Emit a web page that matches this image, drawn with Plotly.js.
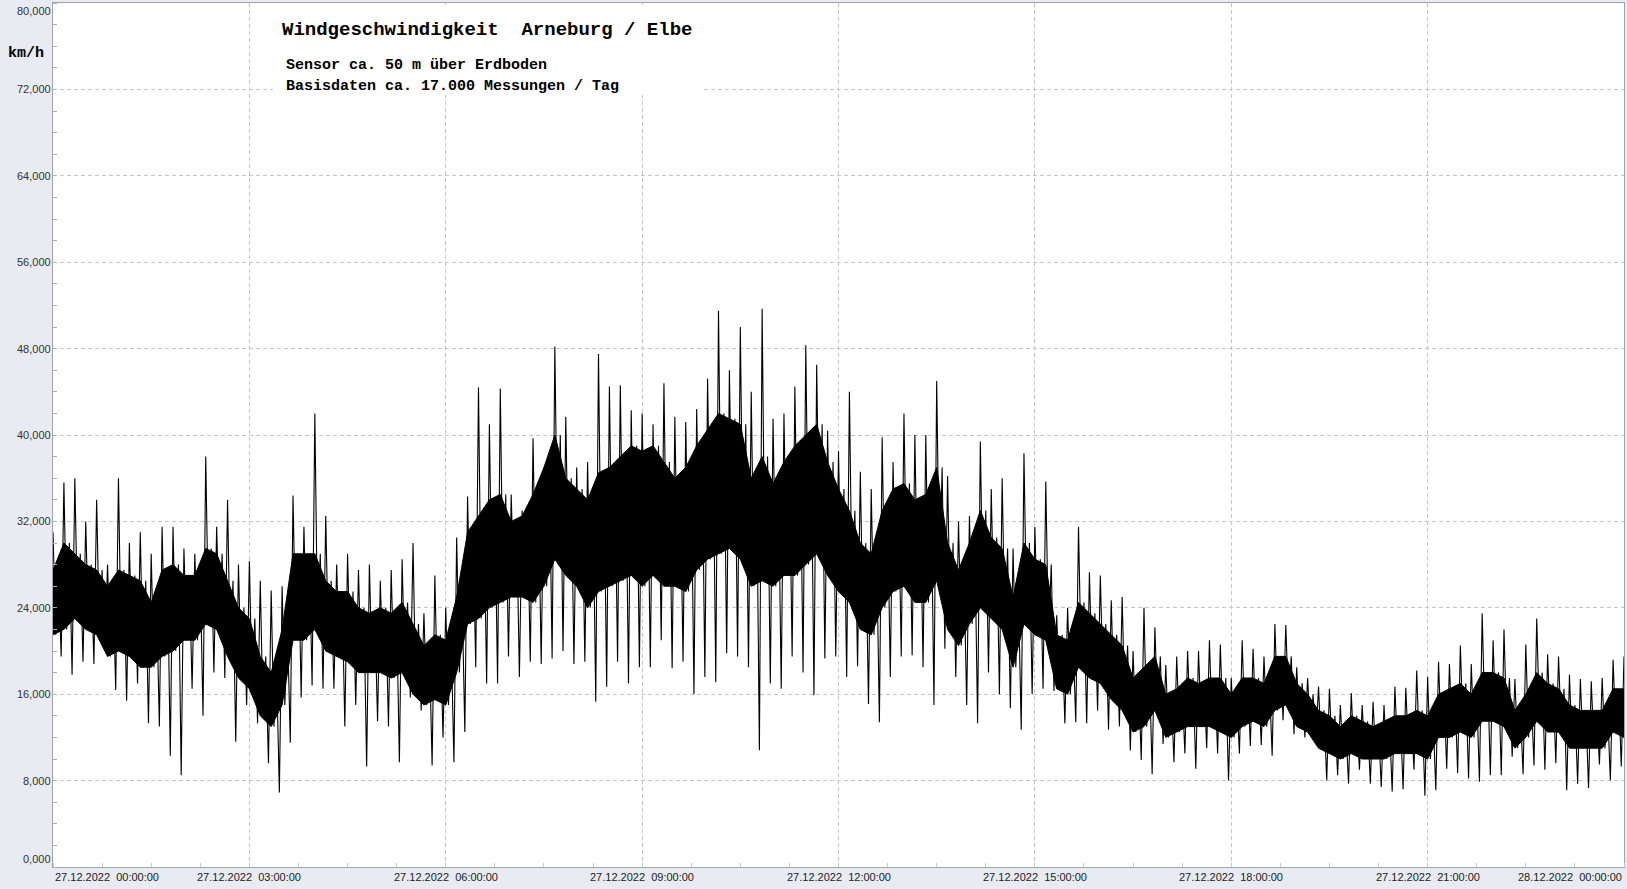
<!DOCTYPE html>
<html>
<head>
<meta charset="utf-8">
<script src="https://cdn.plot.ly/plotly-3.0.1.min.js"></script>
<style>
  html, body { margin: 0; padding: 0; background: #e8ebf1; }
  #chart { width: 1627px; height: 889px; }
</style>
</head>
<body>
<div id="chart"></div>
<script>
// ---- Data ----
const startTime = '2022-12-27 00:00:00';
const endTime = '2022-12-28 00:00:00';
const slotMinutes = 10;   // one reading group per 10 minutes

// highest spike in each 10-minute slot (km/h)
const peakHigh = [
  31, 35.6, 36, 32, 34, 28, 36, 30, 31, 29, 31.5, 31.5, 29.5, 29, 38, 31.5, 34, 28, 28.3, 26.5, 25.6, 26, 34.4, 31.5,
  42, 32.5, 28, 29, 27.5, 28, 26.5, 27.5, 28.5, 30, 23.5, 27, 24, 30.5, 34.3, 44.4, 41, 44.3, 34.5, 33, 39.7, 37, 48.2, 41.7,
  37, 37.5, 47.5, 44.5, 44.6, 42.3, 42, 41, 44.8, 41.7, 41.2, 42.4, 45.2, 51.5, 46, 50, 44, 51.7, 41.5, 42, 44.5, 48.3, 46.5, 40.4,
  38.5, 44, 36.6, 35, 39.8, 37.5, 42, 40, 40, 45, 36.2, 32, 32.5, 39.4, 35, 36, 29.5, 38.3, 31.5, 35.7, 23.3, 24, 31.5, 27.3,
  27, 24.7, 25, 20, 24, 22.2, 18.7, 19.5, 20, 20, 21, 20.6, 17.5, 21, 20.2, 19.5, 22.5, 22.4, 18.5, 17.5, 16.7, 16.5, 15, 16.1,
  15, 15.3, 15, 16.7, 16.6, 18.2, 17.6, 19, 18.8, 20.5, 18.8, 23.5, 21, 22, 17.4, 20.6, 23, 19.7, 19.5, 17.8, 17.4, 17.2, 17.5, 19.2, 19.5
];
// lowest dip in each 10-minute slot (km/h)
const peakLow = [
  19.5, 17.8, 19, 18.8, 20, 16.4, 15.4, 17, 13.3, 13, 10.3, 8.5, 16.5, 14, 18, 17.5, 11.6, 15, 13.3, 9.6, 6.9, 11.5, 15.7, 16.8,
  16.5, 16.5, 13, 15, 9.3, 13.5, 13, 9.7, 15.7, 14.5, 9.4, 12, 9.7, 12.5, 18.5, 17, 17, 19.5, 17.6, 19, 18.8, 19.3, 20, 18.8,
  19, 15.3, 16.7, 19, 17, 18.5, 18.5, 21, 18.4, 19, 16, 17.6, 17.1, 19.8, 19.5, 18.5, 10.8, 17, 16.5, 19.5, 18, 15.9, 19.3, 19.5,
  17.6, 18.6, 15.1, 13.4, 17.6, 19.5, 19.6, 18.5, 15, 20.2, 17.6, 15, 13.3, 18, 16, 14.7, 12.7, 16, 16.5, 16.3, 13.3, 13.4, 13.3, 14.5,
  12.7, 13, 10.8, 9.9, 8.6, 11.4, 9.7, 10.5, 9.1, 11, 10.5, 8, 10.5, 11.2, 11.3, 10.3, 13.6, 12.3, 12, 11.6, 8, 8.5, 7.7, 9,
  7.7, 7.4, 7, 7.2, 9, 6.6, 7.1, 9.1, 8.7, 8.2, 7.9, 8.5, 8.5, 10.2, 8.6, 9.4, 9, 9.6, 7.1, 7.7, 7.3, 9.5, 8, 9.3, 10
];
// upper edge of the solid black core in each 10-minute slot (km/h)
const coreHigh = [
  27.5, 30, 29, 28, 27.5, 26, 27.5, 27, 26.5, 24.5, 27.5, 28, 27, 27, 29.5, 29, 26.5, 24, 23, 19.5, 18, 22, 29, 29,
  29, 26.5, 25.5, 25.5, 24, 23.5, 24, 23.5, 24.5, 22.5, 20.5, 21.5, 21, 25, 31, 32.5, 34, 34.5, 32, 32.5, 34.5, 37, 40, 36,
  35, 34, 36.5, 37, 38, 39, 38.5, 39, 37.5, 36, 37, 39, 40.5, 42, 41.5, 41, 36, 38, 35.5, 37.5, 39, 40, 41, 37.5,
  35, 33, 30, 29, 33, 35, 35.5, 34, 34.5, 37, 30, 27.5, 30, 33, 30.5, 29.5, 25, 30, 28.5, 28, 21.5, 21, 24.5, 23.5,
  22.5, 21.5, 20.5, 17.5, 18.5, 19.5, 16, 16.5, 17.5, 17, 17.5, 17.5, 16, 17.5, 17.5, 17, 19.5, 19.5, 17, 16, 14.5, 14, 13, 14,
  13.5, 13, 13.5, 14, 14, 14.5, 14, 16, 16.5, 17, 16, 18, 18, 17.5, 14.5, 16, 18, 17, 16.5, 15, 14.5, 14.5, 14.5, 16.5, 16.5
];
// lower edge of the solid black core in each 10-minute slot (km/h)
const coreLow = [
  21.5, 22, 23, 22, 21.5, 19.5, 20, 19.5, 18.5, 18.5, 19.5, 20, 21, 21, 22.5, 22, 19.5, 17.5, 16.5, 14, 13, 15, 21, 21,
  22, 20, 19.5, 19, 18, 18, 18, 17.5, 18, 16, 15, 15.5, 15, 18, 22.5, 23, 24, 24.5, 25, 25, 24.5, 26, 28.5, 27,
  26, 24, 25.5, 26, 26.5, 27, 26, 27, 26, 26, 25.5, 27.5, 28.5, 29, 29.5, 28.5, 26, 26.5, 26, 27, 27, 28, 29, 27,
  25.5, 24.5, 22, 21.5, 24, 25.5, 26, 24.5, 24.5, 26.5, 22, 20.5, 22.5, 24, 23, 22, 18.5, 22.5, 21.5, 21, 16.5, 16, 18.5, 17.5,
  17, 15.5, 14.5, 12.5, 13, 14.5, 12, 12.5, 13, 13, 13, 12.5, 12, 13, 13.5, 13, 14.5, 15, 13, 12.5, 11, 10.5, 10, 10.5,
  10, 10, 10, 10.5, 10.5, 10.5, 10, 12, 12, 12.5, 12, 13.5, 13.5, 13, 11, 12, 13.5, 12.5, 12.5, 11, 11, 11, 11, 12.5, 12
];

// axis ticks
const xTickTimes = [
  '2022-12-27 00:00:00', '2022-12-27 03:00:00', '2022-12-27 06:00:00', '2022-12-27 09:00:00',
  '2022-12-27 12:00:00', '2022-12-27 15:00:00', '2022-12-27 18:00:00', '2022-12-27 21:00:00',
  '2022-12-28 00:00:00'
];
const xTickLabels = [
  '27.12.2022  00:00:00', '27.12.2022  03:00:00', '27.12.2022  06:00:00', '27.12.2022  09:00:00',
  '27.12.2022  12:00:00', '27.12.2022  15:00:00', '27.12.2022  18:00:00', '27.12.2022  21:00:00',
  '28.12.2022  00:00:00'
];
const yTickValues = [0, 8, 16, 24, 32, 40, 48, 56, 64, 72, 80];
const yTickLabels = ['0,000', '8,000', '16,000', '24,000', '32,000', '40,000', '48,000', '56,000', '64,000', '72,000', '80,000'];

const titleText = 'Windgeschwindigkeit\u00a0 Arneburg / Elbe';
const subtitleLines = ['Sensor ca. 50 m über Erdboden', 'Basisdaten ca. 17.000 Messungen / Tag'];
const unitText = 'km/h';

// ---- helpers ----
const startMs = Date.parse(startTime.replace(' ', 'T') + 'Z');
const fmt = ms => new Date(ms).toISOString().replace('T', ' ').slice(0, 19);
const nbsp = s => s.replace(/  /g, '\u00a0 ');
const slotMs = slotMinutes * 60000;

// zigzag trace: spike high -> core low -> core high -> dip low -> next spike ...
const zigX = [], zigY = [];
for (let j = 0; j < peakHigh.length; j++) {
  const t = startMs + j * slotMs;
  zigX.push(fmt(t));                  zigY.push(peakHigh[j]);
  zigX.push(fmt(t + slotMs * 0.25));  zigY.push(coreLow[j]);
  zigX.push(fmt(t + slotMs * 0.5));   zigY.push(coreHigh[j]);
  zigX.push(fmt(t + slotMs * 0.75));  zigY.push(peakLow[j]);
}
// core band polygon
const bandX = [], bandY = [];
for (let j = 0; j < coreHigh.length; j++) {
  bandX.push(fmt(startMs + j * slotMs)); bandY.push(coreHigh[j]);
}
for (let j = coreLow.length - 1; j >= 0; j--) {
  bandX.push(fmt(startMs + j * slotMs)); bandY.push(coreLow[j]);
}

const traces = [
  { type: 'scatter', mode: 'lines', x: bandX, y: bandY, fill: 'toself', fillcolor: '#000000',
    line: { color: '#000000', width: 1 }, hoverinfo: 'skip' },
  { type: 'scatter', mode: 'lines', x: zigX, y: zigY,
    line: { color: '#000000', width: 1.1 }, hoverinfo: 'skip' }
];

const mono = 'Liberation Mono, Courier New, monospace';
const sans = 'Liberation Sans, Arial, sans-serif';
const gridColor = '#c6c6c6';
const annotations = [];
xTickTimes.forEach((t, i) => {
  annotations.push({
    xref: 'x', yref: 'paper', x: t, y: 0, yanchor: 'middle', yshift: -10,
    xanchor: i === 0 ? 'left' : (i === xTickTimes.length - 1 ? 'right' : 'center'),
    text: nbsp(xTickLabels[i]), showarrow: false, font: { family: sans, size: 11, color: '#222' }
  });
});
yTickValues.forEach((v, i) => {
  annotations.push({
    xref: 'paper', yref: 'y', x: 0, y: v, xanchor: 'right',
    yanchor: i === 0 ? 'bottom' : (i === yTickValues.length - 1 ? 'top' : 'middle'),
    text: yTickLabels[i], showarrow: false, font: { family: sans, size: 11, color: '#333' }
  });
});
annotations.push({
  xref: 'paper', yref: 'paper', x: -0.03, y: 0.9418, xanchor: 'left', yanchor: 'middle',
  text: unitText, showarrow: false, font: { family: mono, size: 15, color: '#000', weight: 'bold' }
});
subtitleLines.forEach((s, i) => {
  annotations.push({
    xref: 'paper', yref: 'paper', x: 0.1468, y: i === 0 ? 0.9277 : 0.9034, xanchor: 'left', yanchor: 'middle',
    text: s, showarrow: false, font: { family: mono, size: 15, color: '#000', weight: 'bold' }
  });
});

const layout = {
  width: 1627, height: 889,
  paper_bgcolor: '#e8ebf1', plot_bgcolor: '#ffffff',
  margin: { l: 53, r: 3, t: 3, b: 22, pad: 0 },
  showlegend: false,
  title: {
    text: titleText, xref: 'container', yref: 'container',
    x: 282 / 1627, xanchor: 'left', y: 1 - 28 / 889, yanchor: 'middle',
    font: { family: mono, size: 19, color: '#000', weight: 'bold' }
  },
  xaxis: {
    type: 'date', range: [startTime, endTime], fixedrange: true,
    tickmode: 'array', tickvals: xTickTimes, showticklabels: false, ticks: '',
    showgrid: true, gridcolor: gridColor, gridwidth: 1, griddash: '4px,3px',
    showline: true, mirror: true, linecolor: '#9ea3ad', linewidth: 1, zeroline: false,
    minor: { tick0: startTime, dtick: 45 * 60000, ticks: 'inside', ticklen: 4, tickcolor: '#c8c8c8', tickwidth: 1, showgrid: false }
  },
  yaxis: {
    range: [0, 80], fixedrange: true,
    tickmode: 'array', tickvals: yTickValues, showticklabels: false, ticks: '',
    showgrid: true, gridcolor: gridColor, gridwidth: 1, griddash: '4px,3px',
    showline: true, mirror: true, linecolor: '#9ea3ad', linewidth: 1, zeroline: false,
    minor: { tick0: 0, dtick: 2, ticks: 'inside', ticklen: 4, tickcolor: '#b0b0b0', tickwidth: 1, showgrid: false }
  },
  shapes: [
    { type: 'rect', xref: 'paper', yref: 'paper', x0: 0.14, x1: 0.4137, y0: 0.8935, y1: 0.9977,
      fillcolor: '#ffffff', line: { width: 0 }, layer: 'above' }
  ],
  annotations: annotations
};

Plotly.newPlot('chart', traces, layout, { staticPlot: true, displayModeBar: false });
</script>
</body>
</html>
